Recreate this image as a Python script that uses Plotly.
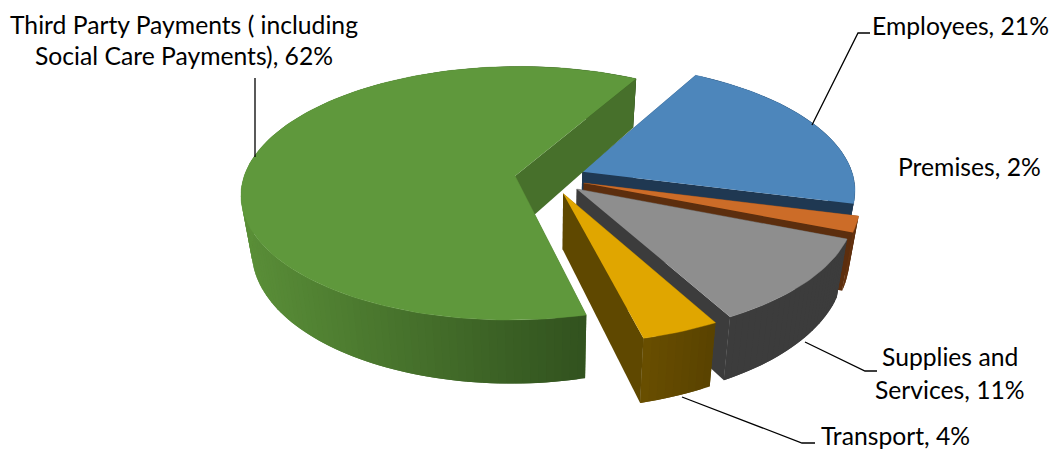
import math
import plotly.graph_objects as go

# Slice data, in drawing order (clockwise from the first slice angle)
categories = ["Employees", "Premises", "Supplies and Services", "Transport",
              "Third Party Payments ( including Social Care Payments)"]
shares = [21, 2, 11, 4, 62]
top_colors = ["#4D86BB", "#CC6C28", "#8E8E8E", "#E0A600", "#5F983C"]
radial_colors = ["#1F3852", "#5C2E0E", "#3C3C3C", "#5F4800", "#47702B"]
rim_left_colors = ["#24405E", "#6B3510", "#3C3C3C", "#6A4F00", "#5A8F38"]
rim_right_colors = ["#1F3852", "#5C2E0E", "#3C3C3C", "#5A4300", "#2C4A1B"]

# Pie projection settings
FIRST_ANGLE = 29.0
CENTER_X, CENTER_Y = 550.0, 178.0
RADIUS_X, DEPTH_Y = 271.5, 125.0
PERSPECTIVE = 0.137
EXPLODE = 0.13
WALL = 55.0
VANISH_X, BOTTOM_SCALE = 550.0, 0.965
STEP = 1.5

# Leader lines and data labels
leaders = [
    [(812, 125), (858, 33), (870, 33)],
    [(255, 157), (255, 78)],
    [(805, 342), (865, 371), (877, 371)],
    [(682, 397), (802, 443), (815, 443)],
]
label_lines = ["Employees, 21%", "Premises, 2%", "Supplies and", "Services, 11%",
               "Transport, 4%", "Third Party Payments ( including",
               "Social Care Payments), 62%"]
label_x = [960, 969, 950, 950, 895, 184, 184]
label_y = [25, 166, 356, 389, 435, 24, 55]


def project(wx, wy, drop=False):
    d = 1 + PERSPECTIVE * wy
    x = CENTER_X + RADIUS_X * wx / d
    y = CENTER_Y - DEPTH_Y * wy / d
    if drop:
        x = VANISH_X + (x - VANISH_X) * BOTTOM_SCALE
        y += WALL / d
    return x, y


def lerp_color(a, b, t):
    ca = [int(a[i:i + 2], 16) for i in (1, 3, 5)]
    cb = [int(b[i:i + 2], 16) for i in (1, 3, 5)]
    return "rgb({},{},{})".format(*[round(p + (q - p) * t) for p, q in zip(ca, cb)])


def polygon(points, color, edge=0.0):
    return go.Scatter(
        x=[p[0] for p in points], y=[p[1] for p in points],
        mode="lines", fill="toself", fillcolor=color,
        line=dict(color=color, width=edge), hoverinfo="skip", showlegend=False,
    )


fig = go.Figure()
start = FIRST_ANGLE
for i, share in enumerate(shares):
    sweep = share * 3.6
    end = start + sweep
    mid = math.radians(start + sweep / 2)
    ox, oy = EXPLODE * math.sin(mid), EXPLODE * math.cos(mid)

    def rim(deg):
        r = math.radians(deg)
        return ox + math.sin(r), oy + math.cos(r)

    n = max(2, int(sweep / STEP))
    angles = [start + sweep * k / n for k in range(n + 1)]

    # side wall on the leading edge
    wx, wy = rim(start)
    fig.add_trace(polygon([project(ox, oy), project(wx, wy), project(wx, wy, True),
                           project(ox, oy, True)], radial_colors[i]))

    # curved outer wall, shaded left to right; each strip overlaps the next to hide seams
    xs = [project(*rim(a))[0] for a in angles]
    lo, hi = min(xs), max(xs)
    for k in range(n):
        a = angles[k]
        b = angles[min(k + 2, n)]
        pa, pb = rim(a), rim(b)
        t = (project(*pa)[0] - lo) / max(hi - lo, 1)
        path = [rim(a + (b - a) * j / 3) for j in range(4)]
        outline = [project(*p) for p in path] + [project(*p, True) for p in reversed(path)]
        fig.add_trace(polygon(outline, lerp_color(rim_left_colors[i], rim_right_colors[i], t)))

    # side wall on the trailing edge, in front of the outer wall
    wx, wy = rim(end)
    fig.add_trace(polygon([project(ox, oy), project(wx, wy), project(wx, wy, True),
                           project(ox, oy, True)], radial_colors[i]))

    # top face
    top = [project(ox, oy)] + [project(*rim(a)) for a in angles]
    fig.add_trace(polygon(top, top_colors[i], 0.4))
    start = end

for path in leaders:
    fig.add_trace(go.Scatter(x=[p[0] for p in path], y=[p[1] for p in path], mode="lines",
                             line=dict(color="#000000", width=1.3),
                             hoverinfo="skip", showlegend=False))

for text, x, y in zip(label_lines, label_x, label_y):
    fig.add_annotation(x=x, y=y, text=text, showarrow=False, xanchor="center", yanchor="middle",
                       font=dict(family="Lato", size=24.7, color="#000000"))

fig.update_layout(
    width=1056, height=450, margin=dict(l=0, r=0, t=0, b=0),
    paper_bgcolor="white", plot_bgcolor="white", showlegend=False,
    xaxis=dict(range=[0, 1056], visible=False, fixedrange=True),
    yaxis=dict(range=[450, 0], visible=False, fixedrange=True),
)
fig.write_html("out.html", config={"displayModeBar": False})
